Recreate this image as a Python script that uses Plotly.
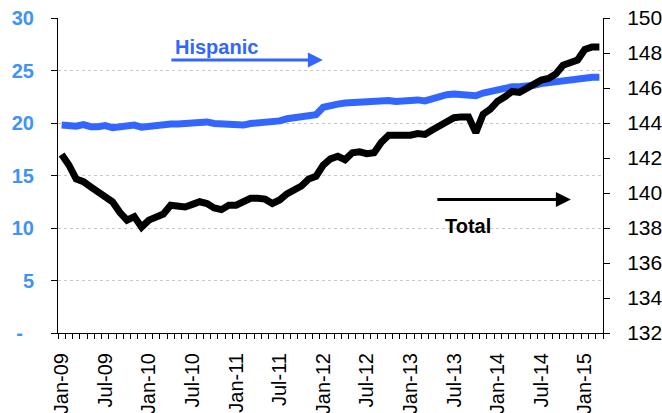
import plotly.graph_objects as go

months = []
mnames = ["Jan", "Feb", "Mar", "Apr", "May", "Jun", "Jul", "Aug", "Sep", "Oct", "Nov", "Dec"]
for yr in range(9, 16):
    for m in mnames:
        months.append(f"{m}-{yr:02d}")
months = months[:75]  # Jan-09 .. Mar-15

hispanic = [
    19.8, 19.7, 19.7, 19.85, 19.65, 19.65, 19.75, 19.55, 19.6, 19.65, 19.8, 19.6,
    19.7, 19.8, 19.85, 19.9, 19.9, 19.95, 20.0, 20.05, 20.1, 19.95, 19.9, 19.95,
    19.95, 19.8, 19.95, 20.0, 20.0, 20.1, 20.2, 20.4, 20.5, 20.6, 20.6, 20.8,
    21.5, 21.7, 21.8, 21.9, 21.95, 22.0, 22.1, 22.05, 22.2, 22.15, 22.05, 22.15,
    22.25, 22.2, 22.1, 22.35, 22.6, 22.7, 22.75, 22.75, 22.7, 22.6, 22.85, 23.0,
    23.2, 23.4, 23.45, 23.45, 23.45, 23.6, 23.75, 23.85, 23.95, 24.05, 24.05, 24.1,
    24.35, 24.35, 24.35,
]
total = [
    142.2, 141.6, 140.8, 140.65, 140.35, 140.05, 139.85, 139.5, 138.9, 138.45, 138.65, 138.05,
    138.45, 138.6, 138.8, 139.3, 139.2, 139.2, 139.35, 139.5, 139.4, 139.15, 139.05, 139.3,
    139.3, 139.5, 139.7, 139.7, 139.65, 139.4, 139.6, 139.95, 140.2, 140.4, 140.8, 140.95,
    141.6, 141.95, 142.1, 141.9, 142.3, 142.35, 142.25, 142.3, 142.9, 143.3, 143.3, 143.25,
    143.3, 143.4, 143.35, 143.6, 143.85, 144.05, 144.3, 144.35, 144.35, 143.45, 144.5, 144.8,
    145.25, 145.5, 145.8, 145.75, 146.0, 146.25, 146.45, 146.55, 146.8, 147.3, 147.4, 147.6,
    148.2, 148.35, 148.35,
]
left_ticks = [0, 5, 10, 15, 20, 25, 30]
left_labels = ["-\u00a0\u00a0", "5", "10", "15", "20", "25", "30"]
right_ticks = [132, 134, 136, 138, 140, 142, 144, 146, 148, 150]
x_label_idx = list(range(0, 75, 6))

idx = list(range(len(months)))
n = len(months)
boundaries = [i - 0.5 for i in range(n + 1)]
FONT = "Liberation Sans, Arial, sans-serif"
BLUE = "#3366FF"
LBLUE = "#3D94F6"

fig = go.Figure()
fig.add_trace(go.Scatter(x=idx, y=hispanic, mode="lines", name="Hispanic",
                         line=dict(color=BLUE, width=7), xaxis="x", yaxis="y"))
fig.add_trace(go.Scatter(x=idx, y=total, mode="lines", name="Total",
                         line=dict(color="black", width=7), xaxis="x2", yaxis="y2"))

fig.update_layout(
    width=662, height=413,
    margin=dict(l=58, r=59, t=18, b=80),
    paper_bgcolor="white", plot_bgcolor="white",
    showlegend=False,
    font=dict(family=FONT, color="black"),
    xaxis=dict(
        range=[-0.5, n - 0.5], automargin=False,
        tickmode="array", tickvals=boundaries, ticktext=["" for _ in boundaries],
        ticks="outside", ticklen=5, tickcolor="black", tickwidth=1,
        showline=True, linecolor="black", linewidth=1,
        showgrid=False, zeroline=False,
    ),
    xaxis2=dict(
        range=[-0.5, n - 0.5], automargin=False, overlaying="x", anchor="y2", side="bottom",
        tickmode="array", tickvals=x_label_idx,
        ticktext=[months[i] for i in x_label_idx],
        tickangle=-90, ticks="", ticklen=0,
        ticklabelstandoff=15,
        tickfont=dict(size=20, family=FONT, color="black"),
        showline=False, showgrid=False, zeroline=False,
    ),
    yaxis=dict(
        range=[0, 30], automargin=False,
        tickmode="array", tickvals=left_ticks, ticktext=left_labels,
        ticks="outside", ticklen=6, tickcolor="black",
        ticklabelstandoff=13,
        tickfont=dict(size=20, family=FONT, color=LBLUE, weight="bold"),
        showline=True, linecolor="black", linewidth=1,
        showgrid=True, gridcolor="#C8C8C8", griddash="dot", gridwidth=1,
        zeroline=False,
    ),
    yaxis2=dict(
        range=[132, 150], automargin=False,
        tickmode="array", tickvals=right_ticks,
        overlaying="y", side="right", anchor="x2",
        ticks="outside", ticklen=6, tickcolor="black",
        ticklabelstandoff=13,
        tickfont=dict(size=21, family=FONT, color="black"),
        showline=True, linecolor="black", linewidth=1,
        showgrid=False, zeroline=False,
    ),
)

fig.add_annotation(xref="paper", yref="paper", x=0.29, y=0.908, text="<b>Hispanic</b>",
                   xanchor="center", yanchor="middle",
                   showarrow=False, font=dict(size=20, color=BLUE, family=FONT))
fig.add_annotation(xref="paper", yref="paper", x=0.486, y=0.867, text="",
                   showarrow=True, ax=-153, ay=0, axref="pixel", ayref="pixel",
                   arrowhead=2, arrowsize=1.0, arrowwidth=3, arrowcolor=BLUE)
fig.add_annotation(xref="paper", yref="paper", x=0.752, y=0.341, text="<b>Total</b>",
                   xanchor="center", yanchor="middle",
                   showarrow=False, font=dict(size=20, color="black", family=FONT))
fig.add_annotation(xref="paper", yref="paper", x=0.941, y=0.424, text="",
                   showarrow=True, ax=-135, ay=0, axref="pixel", ayref="pixel",
                   arrowhead=2, arrowsize=1.0, arrowwidth=3, arrowcolor="black")

fig.write_html("out.html")
